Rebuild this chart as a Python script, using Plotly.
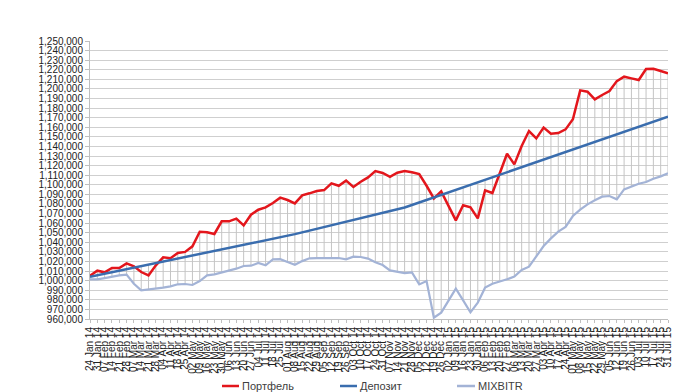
import plotly.graph_objects as go

dates = [
    "24 Jan 14", "31 Jan 14", "07 Feb 14", "14 Feb 14", "21 Feb 14", "28 Feb 14", "07 Mar 14", "14 Mar 14",
    "21 Mar 14", "28 Mar 14", "04 Apr 14", "11 Apr 14", "18 Apr 14", "25 Apr 14", "02 May 14", "09 May 14",
    "16 May 14", "23 May 14", "30 May 14", "06 Jun 14", "13 Jun 14", "20 Jun 14", "27 Jun 14", "04 Jul 14",
    "11 Jul 14", "18 Jul 14", "25 Jul 14", "01 Aug 14", "08 Aug 14", "15 Aug 14", "22 Aug 14", "29 Aug 14",
    "05 Sep 14", "12 Sep 14", "19 Sep 14", "26 Sep 14", "03 Oct 14", "10 Oct 14", "17 Oct 14", "24 Oct 14",
    "31 Oct 14", "07 Nov 14", "14 Nov 14", "21 Nov 14", "28 Nov 14", "05 Dec 14", "12 Dec 14", "19 Dec 14",
    "26 Dec 14", "02 Jan 15", "09 Jan 15", "16 Jan 15", "23 Jan 15", "30 Jan 15", "06 Feb 15", "13 Feb 15",
    "20 Feb 15", "27 Feb 15", "06 Mar 15", "13 Mar 15", "20 Mar 15", "27 Mar 15", "03 Apr 15", "10 Apr 15",
    "17 Apr 15", "24 Apr 15", "01 May 15", "08 May 15", "15 May 15", "22 May 15", "29 May 15", "05 Jun 15",
    "12 Jun 15", "19 Jun 15", "26 Jun 15", "03 Jul 15", "10 Jul 15", "17 Jul 15", "24 Jul 15", "31 Jul 15",
]

portfolio = [
    1005200, 1010400, 1008700, 1013200, 1013200, 1018000, 1015000, 1009000, 1005500, 1016000,
    1024300, 1023300, 1028800, 1030000, 1035800, 1051000, 1050400, 1048700, 1061900, 1061900,
    1064700, 1057700, 1068800, 1074000, 1076500, 1081000, 1086600, 1084100, 1080600, 1089000,
    1091100, 1093500, 1094500, 1101500, 1099000, 1104300, 1097700, 1103200, 1107700, 1114300,
    1112300, 1108400, 1112600, 1114300, 1113000, 1111200, 1099000, 1085800, 1093100, 1077900,
    1062900, 1078600, 1076500, 1065000, 1094200, 1091400, 1111600, 1132400, 1121300, 1140400,
    1156100, 1148400, 1159600, 1153300, 1154000, 1157800, 1168300, 1198500, 1197100, 1189100,
    1193700, 1197800, 1208200, 1212800, 1211000, 1209300, 1220800, 1221100, 1218700, 1216300,
]

deposit = [
    1004000, 1005570, 1007140, 1008710, 1010280, 1011850, 1013420, 1014990, 1016560, 1018130,
    1019700, 1021270, 1022840, 1024410, 1025980, 1027550, 1029120, 1030690, 1032260, 1033830,
    1035400, 1036970, 1038540, 1040110, 1041680, 1043250, 1044820, 1046670, 1048520, 1050370,
    1052220, 1054070, 1055920, 1057770, 1059620, 1061470, 1063320, 1065170, 1067020, 1068870,
    1070720, 1072570, 1074420, 1076270, 1078900, 1081530, 1084160, 1086790, 1089420, 1092050,
    1094680, 1097310, 1099940, 1102570, 1105200, 1107830, 1110460, 1113090, 1115720, 1118350,
    1120980, 1123610, 1126240, 1128870, 1131500, 1134130, 1136760, 1139390, 1142020, 1144650,
    1147280, 1149910, 1152540, 1155170, 1157800, 1160430, 1163060, 1165690, 1168320, 1170950,
]

mixbitr = [
    1001300, 1001300, 1002700, 1004500, 1005500, 1006300, 996800, 989900, 990600, 991600,
    992700, 994100, 996200, 996500, 995500, 999600, 1005500, 1006600, 1008700, 1010000,
    1012500, 1015300, 1015600, 1018400, 1016000, 1022200, 1022400, 1019400, 1016600, 1020400,
    1023300, 1023600, 1023600, 1023500, 1023600, 1022200, 1025000, 1024700, 1023000, 1019100,
    1016300, 1010700, 1009000, 1007900, 1008600, 996100, 999600, 961300, 966600, 978700,
    991600, 979400, 966900, 977000, 992700, 996800, 998900, 1001400, 1004200, 1011100,
    1014600, 1025700, 1036100, 1044100, 1051100, 1056000, 1067400, 1074000, 1079600, 1083800,
    1087600, 1088300, 1084800, 1095200, 1098000, 1101100, 1102900, 1106400, 1108800, 1111900,
]

series_names = ["Портфель", "Депозит", "MIXBITR"]
series_colors = ["#E3161C", "#3A6DAE", "#A3B3D6"]
series_widths = [2.5, 2.5, 2.2]

# high-low lines (Excel style) from data
hl_x, hl_y = [], []
for c, a, b, m in zip(dates, portfolio, deposit, mixbitr):
    hl_x += [c, c, None]
    hl_y += [min(a, b, m), max(a, b, m), None]

fig = go.Figure()
fig.add_trace(go.Scatter(x=hl_x, y=hl_y, mode="lines", line=dict(color="#C4C4C4", width=1),
                         showlegend=False, hoverinfo="skip"))
for name, vals, col, w in zip(series_names, [portfolio, deposit, mixbitr], series_colors, series_widths):
    fig.add_trace(go.Scatter(x=dates, y=vals, mode="lines", name=name,
                             line=dict(color=col, width=w), showlegend=False))

W, H = 681, 392
L, R, T, B = 82, 21, 33, 81
pw, ph = W - L - R, H - T - B

def px(x):
    return (x - L) / pw

def py(y):
    return (H - B - y) / ph

legend_items = [(214, 231, "Портфель"), (332, 349, "Депозит"), (449, 467, "MIXBITR")]
shapes, annotations = [], []
ly = 378
for (x0, x1, txt), col in zip(legend_items, series_colors):
    shapes.append(dict(type="line", xref="paper", yref="paper", x0=px(x0), x1=px(x1),
                       y0=py(ly), y1=py(ly), line=dict(color=col, width=2.5)))
    annotations.append(dict(xref="paper", yref="paper", x=px(x1 + 1), y=py(ly), text=txt,
                            showarrow=False, xanchor="left", yanchor="middle",
                            font=dict(size=11, color="#404040", family="Liberation Sans, Arial, sans-serif")))

fig.update_layout(
    width=W, height=H,
    margin=dict(l=L, r=R, t=T, b=B),
    paper_bgcolor="white", plot_bgcolor="white",
    font=dict(family="Liberation Sans, Arial, sans-serif", color="#222222"),
    shapes=shapes, annotations=annotations,
    xaxis=dict(type="category", range=[0, len(dates) - 1], tickangle=-90,
               tickmode="array", tickvals=dates, ticktext=dates,
               tickfont=dict(size=10, color="#222222"), showgrid=False,
               showline=True, linecolor="#BFBFBF", linewidth=1,
               ticks="outside", ticklen=3, tickcolor="#BFBFBF", automargin=False),
    yaxis=dict(range=[960000, 1250000], dtick=10000, tickformat=",",
               tickfont=dict(size=10, color="#222222"),
               showgrid=True, gridcolor="#CFCFCF", gridwidth=1,
               showline=True, linecolor="#BFBFBF", linewidth=1,
               ticks="outside", ticklen=4, tickcolor="#BFBFBF", zeroline=False, automargin=False),
)

fig.write_html("out.html")
